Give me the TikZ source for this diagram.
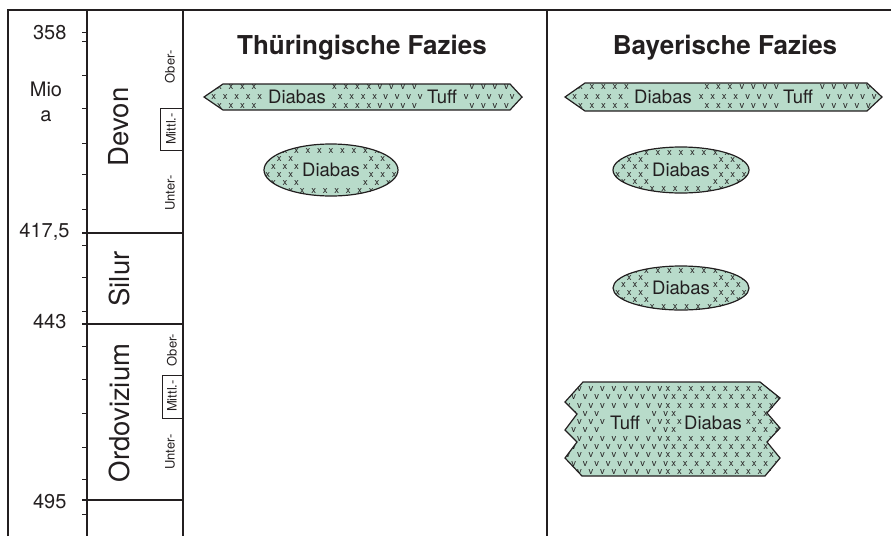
\documentclass[tikz,border=0pt]{standalone}
\usepackage{fontspec}
\setmainfont{TeX Gyre Heros}
\usepackage{tikz}
\usetikzlibrary{positioning}
\definecolor{fazies}{RGB}{184,219,202}
\definecolor{ink}{RGB}{35,31,32}

% rows of rock marks: symbol, x from, x to, y from, y to, label x, label y, label half width
\newcommand{\gesteinmarks}[8]{%
  \pgfmathtruncatemacro\nrows{max(1,round((#5-#4)/8))}%
  \pgfmathsetmacro\rowstep{(#5-#4)/\nrows}%
  \pgfmathtruncatemacro\ncols{(#3-#2)/11.5}%
  \foreach \i in {0,...,\nrows}{%
    \foreach \j in {0,...,\ncols}{%
      \pgfmathsetmacro\px{#2+11.5*\j+5.75*mod(\i,2)}%
      \pgfmathsetmacro\py{#4+\rowstep*\i}%
      \pgfmathtruncatemacro\frei{and(abs(\px-#6)<#8,abs(\py-#7)<14)}%
      \ifnum\frei=0 \node[patmark] at (\px,\py) {#1};\fi
    }}}
\newcommand{\thueband}{(204,97) -- (223,84) -- (510,84) -- (522,97) -- (510,110) -- (223,110) -- cycle}
\newcommand{\bayband}{(565,97) -- (585,83) -- (867,83) -- (882,97) -- (867,111) -- (585,111) -- cycle}
\newcommand{\bayordo}{(583,382) -- (760,382) -- (780,398) -- (767,413) -- (780,428) -- (767,442) -- (780,458) -- (765,476) -- (582,476) -- (565,458) -- (577,442) -- (565,430) -- (577,414) -- (565,402) -- cycle}

\begin{document}
\begin{tikzpicture}[x=1pt,y=-1pt,
   rahmen/.style={draw=ink,line width=1.2pt},
   grenze/.style={draw=ink,line width=1.6pt},
   strich/.style={draw=ink,line width=1pt},
   gestein/.style={fill=fazies,draw=ink,line width=1.2pt},
   patmark/.style={text=ink,font=\fontsize{9.5}{9.5}\selectfont,inner sep=0pt},
   gesteintext/.style={fill=fazies,text=ink,inner sep=1pt,font=\fontsize{18.5}{18.5}\selectfont},
   alter/.style={anchor=east,text=ink,font=\fontsize{20}{20}\selectfont},
   einheit/.style={text=ink,font=\fontsize{20}{20}\selectfont},
   periode/.style={rotate=90,text=ink,font=\fontsize{27.5}{27.5}\selectfont},
   abt/.style={rotate=90,text=ink,font=\fontsize{13}{13}\selectfont},
   kopf/.style={text=ink,font=\bfseries\fontsize{26}{26}\selectfont}]
   \useasboundingbox (0,0) rectangle (891,536);

   % frame and columns
   \draw[rahmen] (8,536) -- (8,10) -- (891,10);
   \draw[rahmen] (87,10) -- (87,536);
   \draw[rahmen] (183,10) -- (183,536);
   \draw[rahmen] (547,10) -- (547,536);
   \foreach \t in {32,41,75,108,143,174,209,245,277,311,346,379,413,447,479,514}
      \draw[strich] (82,\t) -- (87,\t);
   \foreach \t in {233,324,500}
      \draw[grenze] (82,\t) -- (183,\t);
   \draw[strich] (183,108) -- (160,108) -- (160,150) -- (183,150);
   \draw[strich] (183,375) -- (162,375) -- (162,418) -- (183,418);

   % time scale
   \node[alter] (a358) at (70,33) {358};
   \node[alter] (a417) at (73,232) {417,5};
   \node[alter] (a443) at (70,322) {443};
   \node[alter] (a495) at (70,502) {495};
   \node[einheit] (mio) at (46,89) {Mio};
   \node[einheit] (jahre) at (46,116) {a};

   \node[periode] (devon) at (119,127) {Devon};
   \node[periode] (silur) at (119,279) {Silur};
   \node[periode] (ordo) at (119,413) {Ordovizium};
   \node[abt] (dober) at (170,67) {Ober-};
   \node[abt] (dmittl) at (171,129) {Mittl.-};
   \node[abt] (dunter) at (170,193) {Unter-};
   \node[abt] (oober) at (172,350) {Ober-};
   \node[abt] (omittl) at (172,396) {Mittl.-};
   \node[abt] (ounter) at (170,452) {Unter-};

   \node[kopf] (thue) at (362,48) {Thüringische Fazies};
   \node[kopf] (bay) at (725,48) {Bayerische Fazies};

   % Thueringische Fazies
   \draw[gestein] \thueband;
   \begin{scope}
      \clip \thueband;
      \gesteinmarks{x}{208}{373}{87.5}{106.5}{297}{97}{33}
      \gesteinmarks{v}{380}{522}{87.5}{106.5}{442}{97}{20}
   \end{scope}
   \node[gesteintext] (thdiabas1) at (297,97) {Diabas};
   \node[gesteintext] (thtuff) at (442,97) {Tuff};

   \draw[gestein] (331,170) ellipse [x radius=67pt, y radius=26pt];
   \begin{scope}
      \clip (331,170) ellipse [x radius=67pt, y radius=26pt];
      \gesteinmarks{x}{262}{400}{151}{191}{331}{170}{33}
   \end{scope}
   \node[gesteintext] (thdiabas2) at (331,170) {Diabas};

   % Bayerische Fazies
   \draw[gestein] \bayband;
   \begin{scope}
      \clip \bayband;
      \gesteinmarks{x}{569}{735}{87.5}{106.5}{663}{97}{33}
      \gesteinmarks{v}{742}{882}{87.5}{106.5}{798}{97}{20}
   \end{scope}
   \node[gesteintext] (baydiabas1) at (663,97) {Diabas};
   \node[gesteintext] (baytuff1) at (798,97) {Tuff};

   \draw[gestein] (681,170) ellipse [x radius=68pt, y radius=23pt];
   \begin{scope}
      \clip (681,170) ellipse [x radius=68pt, y radius=23pt];
      \gesteinmarks{x}{612}{750}{153}{189}{681}{170}{33}
   \end{scope}
   \node[gesteintext] (baydiabas2) at (681,170) {Diabas};

   \draw[gestein] (681,288) ellipse [x radius=68pt, y radius=22pt];
   \begin{scope}
      \clip (681,288) ellipse [x radius=68pt, y radius=22pt];
      \gesteinmarks{x}{612}{750}{271}{307}{681}{288}{33}
   \end{scope}
   \node[gesteintext] (baydiabas3) at (681,288) {Diabas};

   \draw[gestein] \bayordo;
   \begin{scope}
      \clip \bayordo;
      \gesteinmarks{v}{568}{660}{389}{472}{625}{423}{20}
      \gesteinmarks{x}{668}{782}{389}{472}{713}{423}{33}
   \end{scope}
   \node[gesteintext] (baytuff2) at (625,423) {Tuff};
   \node[gesteintext] (baydiabas4) at (713,423) {Diabas};
\end{tikzpicture}
\end{document}
